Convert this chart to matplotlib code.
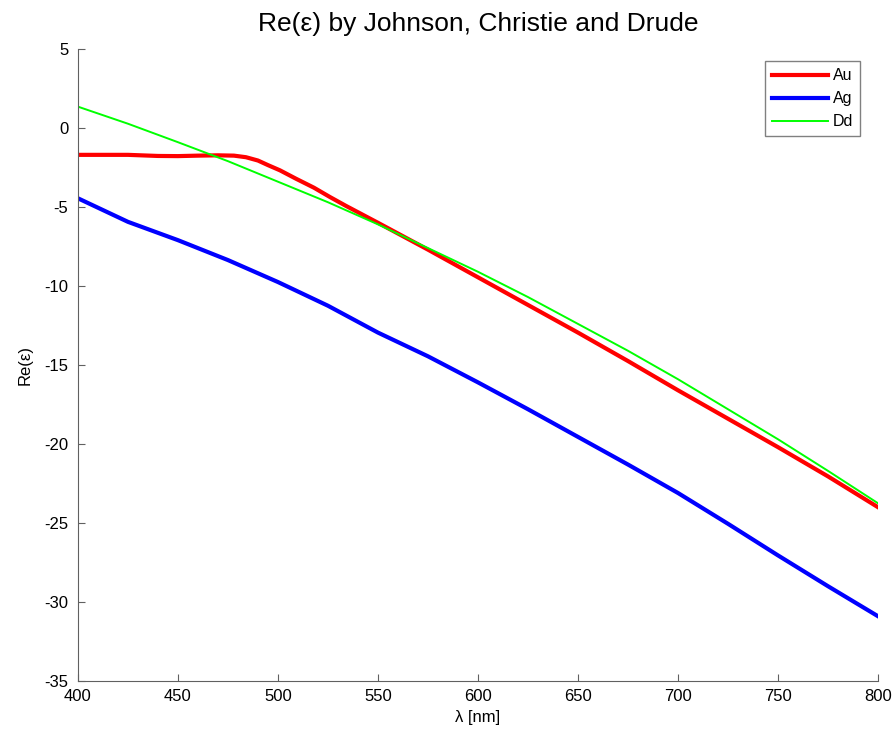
import matplotlib
matplotlib.use("Agg")
import matplotlib.pyplot as plt

plt.rcParams["font.family"] = ["Liberation Sans", "DejaVu Sans"]
plt.rcParams["axes.unicode_minus"] = False

# Re(eps)
au_wl = [400, 425, 440, 450, 460, 470, 478, 484, 490, 495, 501, 509, 518,
         526, 534, 550, 575, 600, 625, 650, 675, 700, 725, 750, 775, 800]
au_eps = [-1.70, -1.70, -1.77, -1.78, -1.75, -1.73, -1.75, -1.85, -2.06,
          -2.35, -2.68, -3.21, -3.78, -4.37, -4.93, -6.0, -7.70, -9.45,
          -11.2, -12.95, -14.75, -16.6, -18.4, -20.2, -22.05, -24.0]

ag_wl = [400, 425, 450, 475, 500, 525, 550, 575, 600, 625, 650, 675, 700,
         725, 750, 775, 800]
ag_eps = [-4.45, -5.94, -7.1, -8.36, -9.75, -11.25, -12.95, -14.45, -16.1,
          -17.8, -19.55, -21.3, -23.1, -25.05, -27.05, -29.0, -30.9]

dd_wl = [400, 425, 450, 475, 500, 525, 550, 575, 600, 625, 650, 675, 700,
         725, 750, 775, 800]
dd_eps = [1.35, 0.27, -0.9, -2.1, -3.4, -4.7, -6.1, -7.6, -9.1, -10.7,
          -12.4, -14.1, -15.9, -17.8, -19.7, -21.7, -23.75]

axis_grey = "#606060"

fig = plt.figure(figsize=(8.94, 7.30), dpi=100)
ax = fig.add_axes([0.0872, 0.0671, 0.8949, 0.8658])

ax.plot(au_wl, au_eps, color="red", lw=3, label="Au")
ax.plot(ag_wl, ag_eps, color="blue", lw=3, label="Ag")
ax.plot(dd_wl, dd_eps, color="#00ff00", lw=1.4, label="Dd")

ax.set_xlim(400, 800)
ax.set_ylim(-35, 5)
ax.set_xticks(range(400, 801, 50))
ax.set_yticks(range(-35, 6, 5))

for side in ("top", "right"):
    ax.spines[side].set_visible(False)
for side in ("left", "bottom"):
    ax.spines[side].set_color(axis_grey)

ax.tick_params(direction="in", length=5, color=axis_grey, labelsize=12,
               labelcolor="black")
ax.tick_params(axis="x", pad=6)
ax.tick_params(axis="y", pad=7)

ax.set_title("Re(ε) by Johnson, Christie and Drude", fontsize=19, pad=13)
ax.set_xlabel("λ [nm]", fontsize=12, labelpad=4)
ax.set_ylabel("Re(ε)", fontsize=12, labelpad=8)

leg = ax.legend(loc="upper right", bbox_to_anchor=(0.978, 0.981),
                fontsize=11.5, frameon=True, fancybox=False,
                handlelength=3.5, handletextpad=0.3, borderpad=0.45,
                labelspacing=0.5, borderaxespad=0)
leg.get_frame().set_edgecolor(axis_grey)
leg.get_frame().set_linewidth(1.0)

fig.savefig("out.png", dpi=100)
